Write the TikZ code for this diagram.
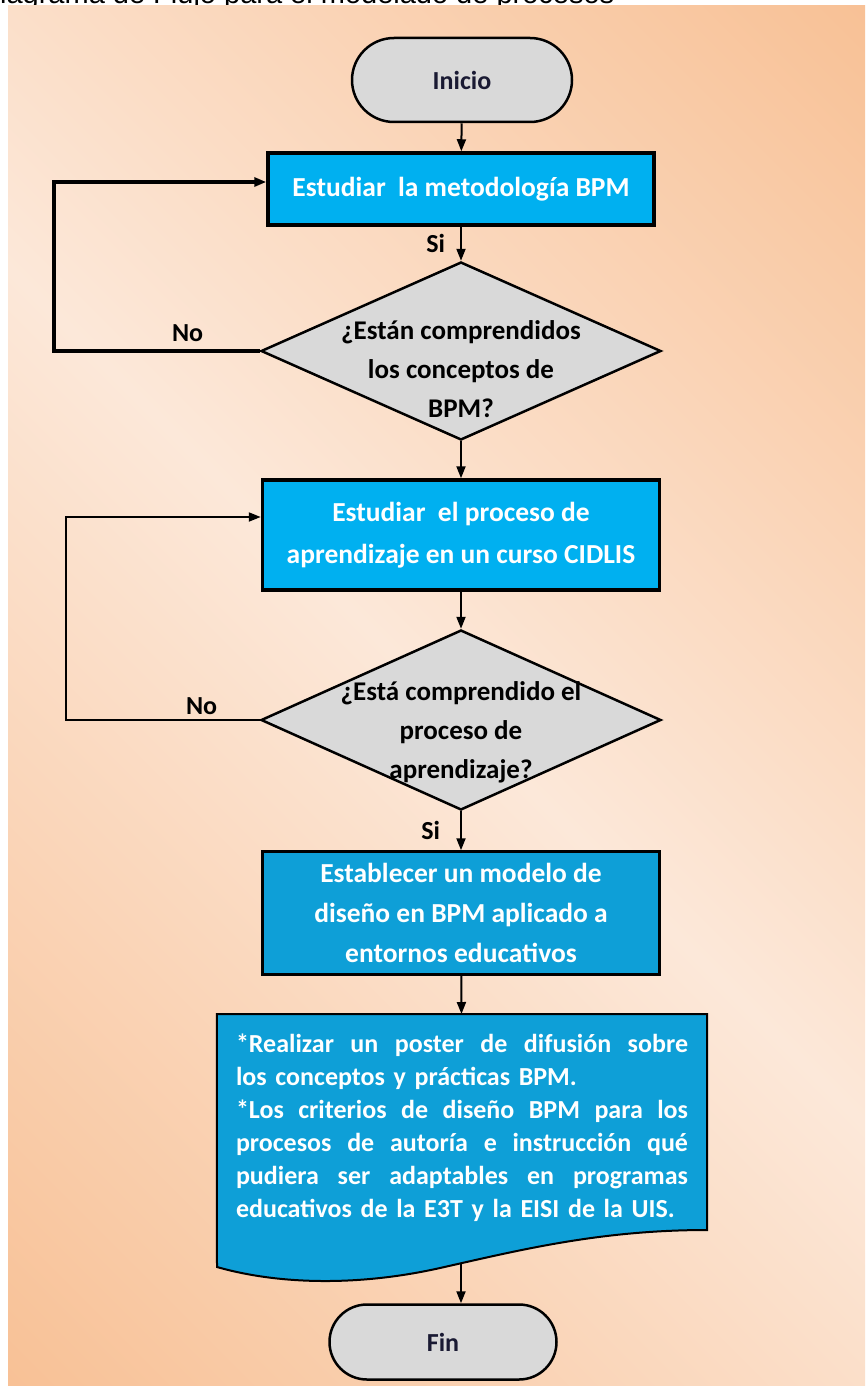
\documentclass[tikz,border=0pt]{standalone}
\usepackage{fontspec}
\setmainfont{Carlito}
\newfontfamily\captionfont{Liberation Sans}
\usetikzlibrary{shapes.geometric,shapes.misc,arrows.meta,backgrounds}
\definecolor{boxcyan}{HTML}{00B0F0}
\definecolor{boxblue}{HTML}{0E9FD7}
\definecolor{termgray}{HTML}{D9D9D9}
\definecolor{bglight}{HTML}{FCE8D9}
\definecolor{bgorange}{HTML}{F8C196}
\definecolor{termtext}{HTML}{1A1A33}
\pgfdeclarehorizontalshading{panelshade}{100bp}{color(0bp)=(bgorange); color(14.6bp)=(bgorange);
  color(50bp)=(bglight); color(85.4bp)=(bgorange); color(100bp)=(bgorange)}
% one justified line of the output sheet (tikz fixes \spaceskip, so reset it here)
\newcommand{\jline}[1]{\makebox[452pt][s]{\spaceskip=0pt\xspaceskip=0pt #1}}
\tikzset{
  flow/.style={font=\bfseries\fontsize{27.5}{40}\selectfont, align=center, inner sep=0pt},
  term/.style={flow, font=\bfseries\fontsize{26}{30}\selectfont, rounded rectangle, draw,
               line width=2.5pt, fill=termgray, text=termtext},
  procbox/.style={flow, rectangle, draw, line width=3.5pt, fill=boxcyan, text=white},
  decision/.style={diamond, draw, line width=2.5pt, fill=termgray, inner sep=0pt,
                   minimum width=400pt, minimum height=178pt},
  dectext/.style={flow, font=\bfseries\fontsize{27}{39}\selectfont},
  arr/.style={line width=2pt, -{Triangle[length=12pt,width=9pt]}},
  tag/.style={font=\bfseries\fontsize{26}{30}\selectfont, inner sep=0pt},
}

\begin{document}
\begin{tikzpicture}[x=1pt, y=-1pt]
  \useasboundingbox (0,0) rectangle (865,1386);
  \begin{scope}[on background layer]
    \fill[white] (0,0) rectangle (865,1386);
    \node[font=\captionfont\fontsize{29}{29}\selectfont, anchor=base west, inner sep=0pt]
      (caption) at (-21,4) {Diagrama de Flujo para el modelado de procesos};
    \shade[shading=panelshade, shading angle=45] (8,6) rectangle (865,1386);
  \end{scope}

  % flow nodes
  \node[term, minimum width=220pt, minimum height=84pt] (inicio) at (462,80) {Inicio};
  \node[procbox, minimum width=386pt, minimum height=72pt] (box1) at (461,189)
    {Estudiar~ la metodología BPM};
  \node[decision, label={[dectext, yshift=-18pt]center:{¿Están comprendidos\\los conceptos de\\BPM?}}]
    (d1) at (461,351) {};
  \node[procbox, minimum width=397pt, minimum height=110pt,
        font=\bfseries\fontsize{27.5}{42}\selectfont] (box2) at (461,535)
    {Estudiar~ el proceso de\\aprendizaje en un curso CIDLIS};
  \node[decision, minimum height=180pt,
        label={[dectext, yshift=-12pt]center:{¿Está comprendido el\\proceso de\\aprendizaje?}}]
    (d2) at (461,720) {};
  \node[procbox, fill=boxblue, line width=2.5pt, minimum width=397pt, minimum height=123pt]
    (box3) at (461,913) {Establecer un modelo de\\diseño en BPM aplicado a\\entornos educativos};
  \node[anchor=north, text width=452pt, inner xsep=19pt, inner ysep=20pt, align=left,
        text=white, font=\bfseries\fontsize{26}{33}\selectfont] (doc) at (462,1014)
    {\jline{*Realizar un poster de difusión sobre}\\
     los conceptos y prácticas BPM.\\
     \jline{*Los criterios de diseño BPM para los}\\
     \jline{procesos de autoría e instrucción qué}\\
     \jline{pudiera ser adaptables en programas}\\
     educativos de la E3T y la EISI de la UIS.};
  \node[term, minimum width=227pt, minimum height=75pt] (fin) at (443,1342) {Fin};

  % wavy bottom of the output sheet
  \begin{scope}[on background layer]
    \draw[fill=boxblue, line width=2pt] (doc.north west) -- (doc.north east) -- (707,1230)
      .. controls (600,1230) and (520,1250) .. (440,1268)
      .. controls (360,1286) and (280,1285) .. (217,1267) -- cycle;
  \end{scope}
  \coordinate (docout) at (461,1264);

  % connectors
  \draw[arr] (inicio) -- (box1);
  \draw[arr] (box1) -- node[tag, left=15pt] {Si} (d1);
  \draw[arr] (d1) -- (box2);
  \draw[arr] (box2) -- (d2);
  \draw[arr] (d2) -- node[tag, left=20pt] {Si} (box3);
  \draw[arr] (box3) -- (doc);
  \draw[arr] (docout) -- (docout |- fin.north);
  \draw[arr, line width=3.5pt] (d1.west) -- ++(-206,0) node[tag, above=8pt, pos=0.35] {No}
    |- ([yshift=7pt]box1.west);
  \draw[arr] (d2.west) -- ++(-194,0) node[tag, above=4pt, pos=0.3] {No}
    |- ([yshift=18pt]box2.west);
\end{tikzpicture}
\end{document}
